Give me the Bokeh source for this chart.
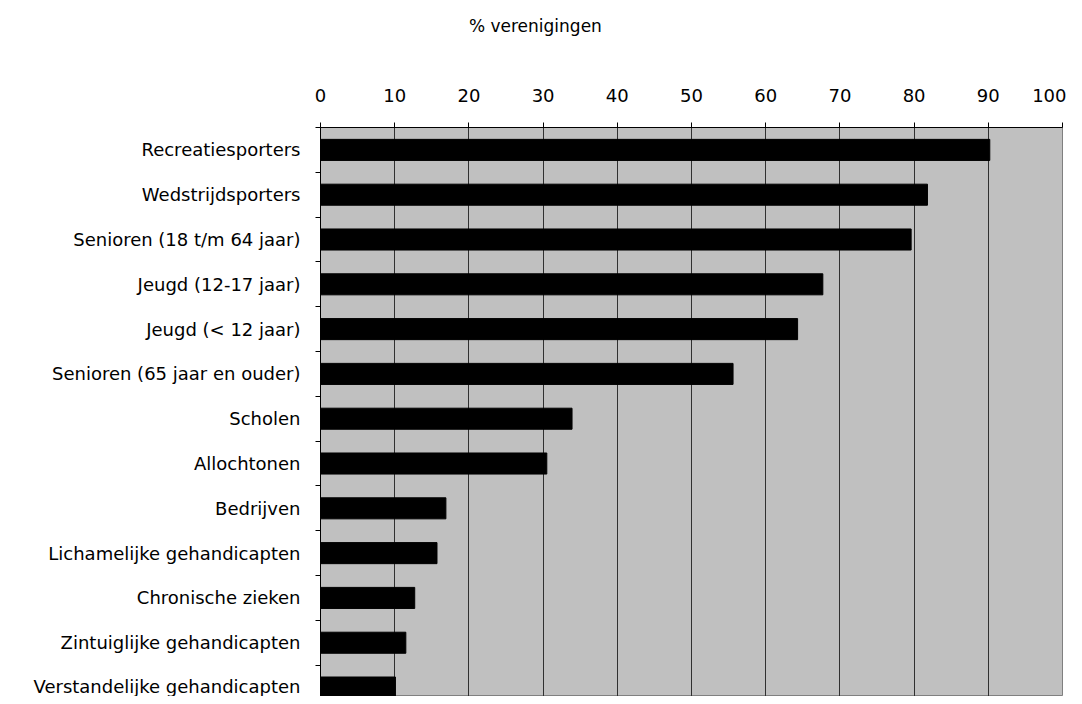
from bokeh.plotting import figure
from bokeh.layouts import column
from bokeh.models import Range1d, FixedTicker, ColumnDataSource
from bokeh.core.properties import value
from bokeh.embed import file_html
from bokeh.resources import INLINE

categories = [
    "Recreatiesporters",
    "Wedstrijdsporters",
    "Senioren (18 t/m 64 jaar)",
    "Jeugd (12-17 jaar)",
    "Jeugd (< 12 jaar)",
    "Senioren (65 jaar en ouder)",
    "Scholen",
    "Allochtonen",
    "Bedrijven",
    "Lichamelijke gehandicapten",
    "Chronische zieken",
    "Zintuiglijke gehandicapten",
    "Verstandelijke gehandicapten",
]
values = [90.2, 81.8, 79.6, 67.7, 64.3, 55.6, 33.9, 30.5, 16.9, 15.7, 12.7, 11.5, 10.1]
x_ticks = [0, 10, 20, 30, 40, 50, 60, 70, 80, 90, 100]
x_title = "% verenigingen"

FONT = "DejaVu Sans"
W = 1066
TITLE_H = 45

x_range = Range1d(0, 100)

# --- title strip (frame aligned with the chart below) ---
t = figure(width=W, height=TITLE_H, output_backend="svg", toolbar_location=None,
           x_range=x_range, y_range=Range1d(0, TITLE_H),
           x_axis_location=None, y_axis_location=None,
           min_border_left=320, min_border_right=4, min_border_top=0, min_border_bottom=0,
           outline_line_color=None)
t.grid.visible = False
t.text(x=[20], y=[TITLE_H - 25], text=[x_title], text_font=value(FONT),
       text_font_size="17px", text_color="black", text_align="left",
       text_baseline="middle")

# --- bar chart ---
pos = list(range(len(categories)))
src = ColumnDataSource(dict(y=pos, v=values, name=categories))

p = figure(width=W, height=696 - TITLE_H, output_backend="svg", toolbar_location=None,
           x_range=x_range, y_range=Range1d(12.2, -0.5),
           x_axis_location="above",
           min_border_left=320, min_border_right=4, min_border_top=127 - TITLE_H,
           min_border_bottom=0)
p.background_fill_color = "#C0C0C0"
p.border_fill_color = "white"
p.outline_line_color = "#808080"

p.hbar(y="y", right="v", left=0, height=0.47, source=src, color="black")

xa = p.xaxis[0]
xa.ticker = FixedTicker(ticks=x_ticks)
xa.major_label_text_font = FONT
xa.major_label_text_font_size = "18px"
xa.major_label_text_color = "black"
xa.major_tick_out = 5
xa.major_tick_in = 0
xa.minor_tick_out = 0
xa.major_label_standoff = 21
xa.axis_line_color = "black"

ya = p.yaxis[0]
ya.ticker = FixedTicker(ticks=pos, minor_ticks=[i + 0.5 for i in range(-1, len(categories))])
ya.major_label_overrides = {i: c for i, c in enumerate(categories)}
ya.major_label_text_font = FONT
ya.major_label_text_font_size = "18px"
ya.major_label_text_color = "black"
ya.major_tick_out = 0
ya.major_tick_in = 0
ya.minor_tick_out = 5
ya.minor_tick_in = 0
ya.major_label_standoff = 15
ya.axis_line_color = "black"

p.xgrid.ticker = FixedTicker(ticks=x_ticks)
p.xgrid.grid_line_color = "#303030"
p.xgrid.grid_line_width = 1
p.ygrid.grid_line_color = None

layout = column(t, p, spacing=0)
open("out.html", "w").write(file_html(layout, INLINE))
